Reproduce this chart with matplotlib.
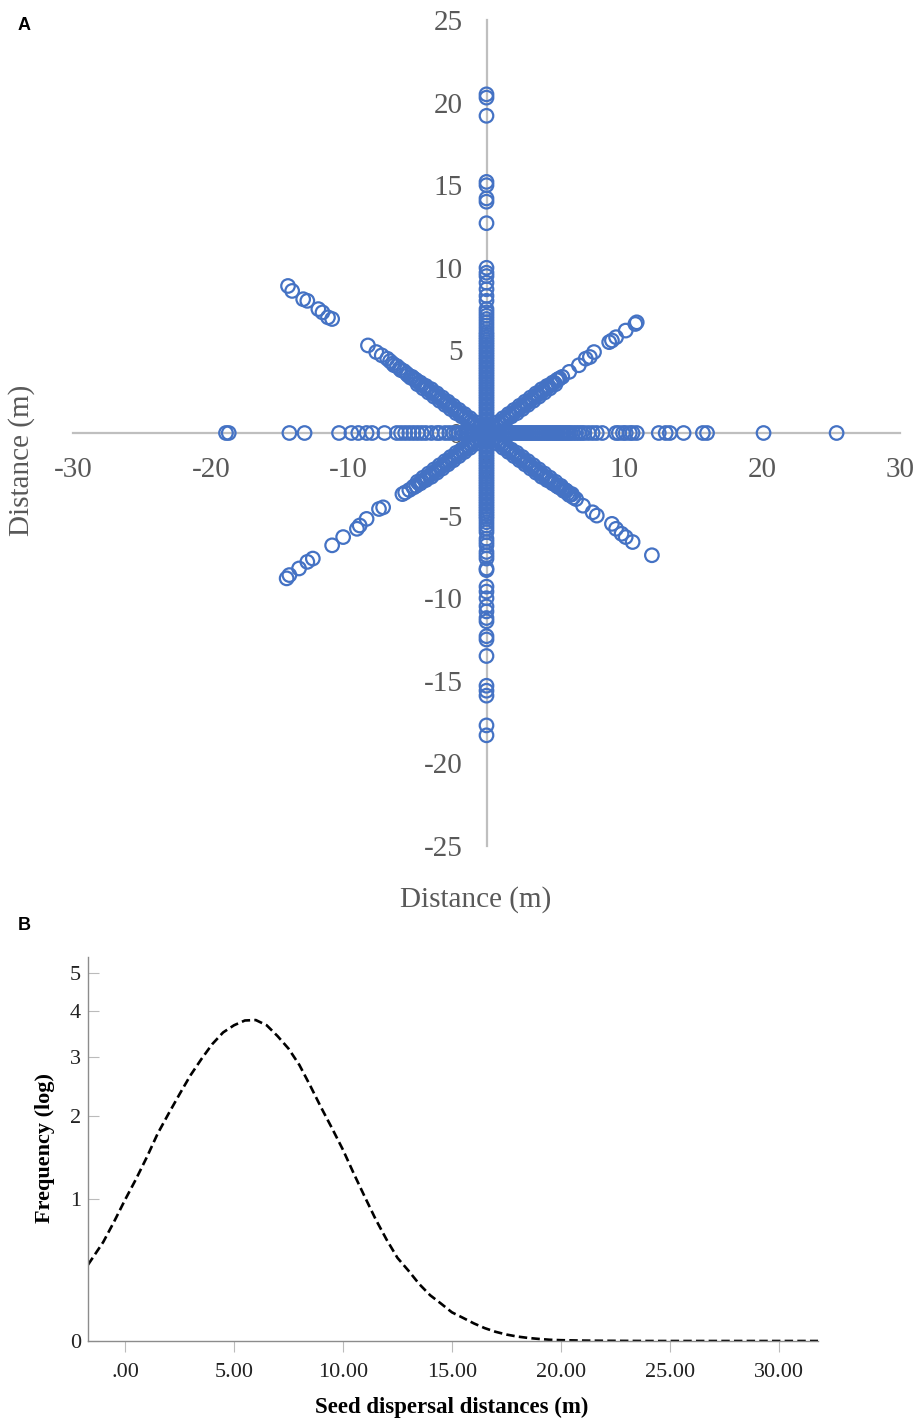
import numpy as np
import matplotlib
matplotlib.use("Agg")
import matplotlib.pyplot as plt
from matplotlib.ticker import FuncFormatter

plt.rcParams["axes.unicode_minus"] = False

# ---- Panel A: seed positions along the eight transects (m) ----
north_y = [0.1, 0.25, 0.4, 0.55, 0.7, 0.85, 1.0, 1.15, 1.3, 1.45, 1.6, 1.75,
           1.9, 2.05, 2.2, 2.35, 2.5, 2.65, 2.8, 2.95, 3.1, 3.25, 3.4, 3.55,
           3.7, 3.85, 4.0, 4.15, 4.3, 4.45, 4.6, 4.75, 4.9, 5.05, 5.2, 5.35,
           5.5, 5.65, 5.8, 5.95, 6.1, 6.3, 6.5, 6.7, 6.9, 7.1, 7.3, 7.5, 8.0,
           8.3, 8.7, 9.1, 9.5, 9.7, 10.0, 12.7, 14.0, 14.2, 15.0, 15.2, 19.2,
           20.3, 20.5]
south_y = [-0.1, -0.25, -0.4, -0.55, -0.7, -0.85, -1.0, -1.15, -1.3, -1.45,
           -1.6, -1.75, -1.9, -2.05, -2.2, -2.35, -2.5, -2.65, -2.8, -2.95,
           -3.1, -3.25, -3.4, -3.55, -3.7, -3.85, -4.0, -4.15, -4.3, -4.45,
           -4.6, -4.75, -4.9, -5.05, -5.2, -5.4, -5.6, -5.8, -6.0, -6.4, -6.6,
           -6.8, -7.2, -7.4, -7.6, -8.2, -8.3, -9.3, -9.6, -10.0, -10.5, -10.8,
           -11.2, -11.4, -12.3, -12.5, -13.5, -15.3, -15.6, -15.9, -17.7, -18.3]
east_x = [0.1, 0.25, 0.4, 0.55, 0.7, 0.85, 1.0, 1.15, 1.3, 1.45, 1.6, 1.75,
          1.9, 2.05, 2.2, 2.35, 2.5, 2.65, 2.8, 2.95, 3.1, 3.25, 3.4, 3.55, 3.7,
          3.85, 4.0, 4.15, 4.3, 4.45, 4.6, 4.75, 4.9, 5.05, 5.2, 5.35, 5.5,
          5.65, 5.8, 5.95, 6.1, 6.3, 6.5, 6.7, 6.9, 7.1, 7.4, 7.7, 8.0, 8.4,
          9.4, 9.6, 9.9, 10.1, 10.4, 10.6, 10.9, 12.5, 13.0, 13.3, 14.3, 15.7,
          16.0, 20.1, 25.4]
west_x = [-0.1, -0.25, -0.4, -0.55, -0.7, -0.85, -1.0, -1.15, -1.3, -1.45,
          -1.6, -1.8, -2.0, -2.2, -2.4, -2.7, -3.0, -3.4, -3.6, -4.0, -4.4,
          -4.7, -5.0, -5.3, -5.6, -5.9, -6.2, -6.5, -7.4, -8.3, -8.7, -9.3,
          -9.8, -10.7, -13.2, -14.3, -18.7, -18.9]

ne_x = [0.2, 0.4, 0.6, 0.8, 1.0, 1.2, 1.4, 1.6, 1.8, 2.0, 2.2, 2.4, 2.6, 2.8,
        3.0, 3.2, 3.4, 3.6, 3.8, 4.0, 4.2, 4.4, 4.6, 4.8, 5.0, 5.2, 5.5, 6.0,
        6.7, 7.2, 7.5, 7.8, 8.9, 9.1, 9.4, 10.1, 10.8, 10.9]
ne_y = [0.1, 0.35, 0.3, 0.65, 0.55, 0.9, 0.75, 1.15, 1.0, 1.4, 1.2, 1.65, 1.45,
        1.9, 1.7, 2.15, 1.95, 2.4, 2.2, 2.65, 2.45, 2.85, 2.7, 3.05, 2.95,
        3.25, 3.4, 3.7, 4.1, 4.5, 4.6, 4.9, 5.5, 5.6, 5.8, 6.2, 6.6, 6.7]
nw_x = [-0.2, -0.4, -0.6, -0.8, -1.0, -1.2, -1.4, -1.6, -1.8, -2.0, -2.2, -2.4,
        -2.6, -2.8, -3.0, -3.2, -3.4, -3.6, -3.8, -4.0, -4.2, -4.4, -4.6, -4.8,
        -5.0, -5.2, -5.5, -5.8, -6.3, -6.8, -7.2, -7.6, -8.0, -8.6, -11.2,
        -11.5, -11.9, -12.2, -13.0, -13.3, -14.1, -14.4]
nw_y = [0.1, 0.35, 0.3, 0.65, 0.55, 0.9, 0.75, 1.15, 1.0, 1.4, 1.2, 1.65, 1.45,
        1.9, 1.7, 2.15, 1.95, 2.4, 2.2, 2.65, 2.45, 2.85, 2.7, 3.05, 2.95,
        3.25, 3.35, 3.6, 3.9, 4.2, 4.5, 4.7, 4.9, 5.3, 6.9, 7.0, 7.3, 7.5, 8.0,
        8.1, 8.6, 8.9]
se_x = [0.2, 0.4, 0.6, 0.8, 1.0, 1.2, 1.4, 1.6, 1.8, 2.0, 2.2, 2.4, 2.6, 2.8,
        3.0, 3.2, 3.4, 3.6, 3.8, 4.0, 4.2, 4.4, 4.6, 4.8, 5.0, 5.2, 5.4, 5.6,
        5.8, 6.0, 6.2, 6.5, 7.0, 7.7, 8.0, 9.1, 9.4, 9.8, 10.1, 10.6, 12.0]
se_y = [-0.1, -0.35, -0.3, -0.65, -0.55, -0.9, -0.75, -1.15, -1.0, -1.4, -1.2,
        -1.65, -1.45, -1.9, -1.7, -2.15, -1.95, -2.4, -2.2, -2.65, -2.45,
        -2.85, -2.7, -3.05, -2.95, -3.25, -3.2, -3.5, -3.5, -3.75, -3.7, -4.0,
        -4.4, -4.8, -5.0, -5.5, -5.8, -6.1, -6.3, -6.6, -7.4]
sw_x = [-0.2, -0.4, -0.6, -0.8, -1.0, -1.2, -1.4, -1.6, -1.8, -2.0, -2.2, -2.4,
        -2.6, -2.8, -3.0, -3.2, -3.4, -3.6, -3.8, -4.0, -4.2, -4.4, -4.6, -4.8,
        -5.0, -5.3, -5.6, -5.9, -6.1, -7.5, -7.8, -8.7, -9.2, -9.4, -10.4,
        -11.2, -12.6, -13.0, -13.6, -14.3, -14.5]
sw_y = [-0.1, -0.35, -0.3, -0.65, -0.55, -0.9, -0.75, -1.15, -1.0, -1.4, -1.2,
        -1.65, -1.45, -1.9, -1.7, -2.15, -1.95, -2.4, -2.2, -2.65, -2.45,
        -2.85, -2.7, -3.05, -2.95, -3.25, -3.45, -3.6, -3.7, -4.5, -4.6, -5.2,
        -5.6, -5.8, -6.3, -6.8, -7.6, -7.8, -8.2, -8.6, -8.8]

# extra seeds filling the dense inner part of the diagonal transects
band_x = [0.3, 0.5, 0.7, 0.9, 1.1, 1.3, 1.5, 1.7, 1.9, 2.1, 2.3, 2.5, 2.7, 2.9,
          3.1, 3.3, 3.5, 3.7, 3.9, 4.1, 4.3, 4.5, 4.7, 4.9, 5.1, 5.3]
band_y = [0.2, 0.3, 0.45, 0.55, 0.7, 0.8, 0.95, 1.05, 1.2, 1.3, 1.45, 1.55,
          1.7, 1.8, 1.95, 2.05, 2.2, 2.3, 2.45, 2.55, 2.7, 2.8, 2.95, 3.05,
          3.2, 3.3]
nw_extra_x = [-5.4, -5.7, -6.0, -6.2, -6.5, -6.7, -7.0]
nw_extra_y = [3.4, 3.5, 3.75, 3.8, 4.05, 4.1, 4.35]
se_extra_x = [5.5, 5.7, 5.9, 6.1, 6.3]
se_extra_y = [-3.35, -3.45, -3.65, -3.75, -3.9]

# ---- Panel B: fitted dispersal curve ----
curve_x = [-1.7, -1.0, -0.5, 0.0, 0.5, 1.0, 1.5, 2.0, 2.5, 3.0, 3.5, 4.0, 4.5,
           5.0, 5.5, 6.0, 6.5, 7.0, 7.5, 8.0, 8.5, 9.0, 9.5, 10.0, 10.5, 11.0,
           11.5, 12.0, 12.5, 13.0, 13.5, 14.0, 14.5, 15.0, 15.5, 16.0, 16.5,
           17.0, 17.5, 18.0, 18.5, 19.0, 19.5, 20.0, 21.0, 22.0, 24.0, 27.0,
           31.8]
curve_y = [0.45, 0.62, 0.79, 0.99, 1.20, 1.45, 1.75, 2.03, 2.33, 2.65, 2.95,
           3.25, 3.50, 3.66, 3.77, 3.78, 3.66, 3.42, 3.16, 2.84, 2.47, 2.12,
           1.82, 1.54, 1.26, 1.02, 0.81, 0.64, 0.50, 0.41, 0.32, 0.25, 0.20,
           0.15, 0.12, 0.09, 0.065, 0.046, 0.032, 0.022, 0.015, 0.010, 0.006,
           0.004, 0.002, 0.001, 0.0, 0.0, 0.0]

blue = "#4472C4"
grey_txt = "#595959"

fig = plt.figure(figsize=(9.18, 14.21), dpi=100)

# Panel A
ax = fig.add_axes([73 / 918, 1 - 846 / 1421, 827 / 918, 826 / 1421])
neg_band_x = [-v for v in band_x]
neg_band_y = [-v for v in band_y]
xs = ([0] * len(north_y) + [0] * len(south_y) + east_x + west_x
      + ne_x + nw_x + se_x + sw_x
      + band_x + neg_band_x + band_x + neg_band_x + nw_extra_x + se_extra_x)
ys = (north_y + south_y + [0] * len(east_x) + [0] * len(west_x)
      + ne_y + nw_y + se_y + sw_y
      + band_y + band_y + neg_band_y + neg_band_y + nw_extra_y + se_extra_y)
ax.scatter(xs, ys, s=95, facecolors="none", edgecolors=blue, linewidths=1.6, zorder=3)
ax.set_xlim(-30, 30)
ax.set_ylim(-25, 25)
for side in ["left", "bottom"]:
    ax.spines[side].set_position("zero")
    ax.spines[side].set_color("#BFBFBF")
    ax.spines[side].set_linewidth(1.6)
for side in ["top", "right"]:
    ax.spines[side].set_visible(False)
ax.set_xticks([-30, -20, -10, 0, 10, 20, 30])
ax.set_yticks([-25, -20, -15, -10, -5, 0, 5, 10, 15, 20, 25])
ax.tick_params(axis="x", length=0, pad=17, labelsize=21, labelcolor=grey_txt)
ax.tick_params(axis="y", length=0, pad=17, labelsize=21, labelcolor=grey_txt)
for lbl in ax.get_xticklabels() + ax.get_yticklabels():
    lbl.set_family("Liberation Serif")
fig.text(476 / 918, 1 - 900 / 1421, "Distance (m)", ha="center", va="center",
         fontsize=21, color=grey_txt, family="Liberation Serif")
fig.text(22 / 918, 1 - 460 / 1421, "Distance (m)", ha="center", va="center",
         rotation=90, fontsize=21, color=grey_txt, family="Liberation Serif")
fig.text(18 / 918, 1 - 25 / 1421, "A", ha="left", va="center", fontsize=13,
         fontweight="bold", family="Liberation Sans")

# Panel B
bx = fig.add_axes([88 / 918, 1 - 1341 / 1421, 730 / 918, 384 / 1421])
bx.plot(curve_x, curve_y, color="black", linewidth=1.9, linestyle=(0, (3.2, 1.6)))
bx.set_yscale("function", functions=(np.log1p, np.expm1))
bx.set_ylim(0, 5.5)
bx.set_xlim(-1.7, 31.8)
bx.set_yticks([0, 1, 2, 3, 4, 5])
bx.set_xticks([0, 5, 10, 15, 20, 25, 30])
bx.xaxis.set_major_formatter(FuncFormatter(lambda v, p: ".00" if v == 0 else f"{v:.2f}"))
bx.yaxis.set_major_formatter(FuncFormatter(lambda v, p: f"{int(round(v))}"))
for side in ["top", "right"]:
    bx.spines[side].set_visible(False)
for side in ["left", "bottom"]:
    bx.spines[side].set_color("#8C8C8C")
    bx.spines[side].set_linewidth(1.0)
bx.tick_params(axis="x", direction="out", length=8, color="#BBBBBB", pad=8,
               labelsize=16, labelcolor="#222222")
bx.tick_params(axis="y", direction="in", length=8, color="#BBBBBB", pad=5,
               labelsize=16, labelcolor="#222222")
for lbl in bx.get_xticklabels() + bx.get_yticklabels():
    lbl.set_family("Liberation Serif")
fig.text(452 / 918, 1 - 1407 / 1421, "Seed dispersal distances (m)", ha="center",
         va="center", fontsize=16.5, fontweight="bold", family="Liberation Serif")
fig.text(45 / 918, 1 - 1148 / 1421, "Frequency (log)", ha="center", va="center",
         rotation=90, fontsize=16, fontweight="bold", family="Liberation Serif")
fig.text(18 / 918, 1 - 925 / 1421, "B", ha="left", va="center", fontsize=13,
         fontweight="bold", family="Liberation Sans")

fig.savefig("out.png", dpi=100)
